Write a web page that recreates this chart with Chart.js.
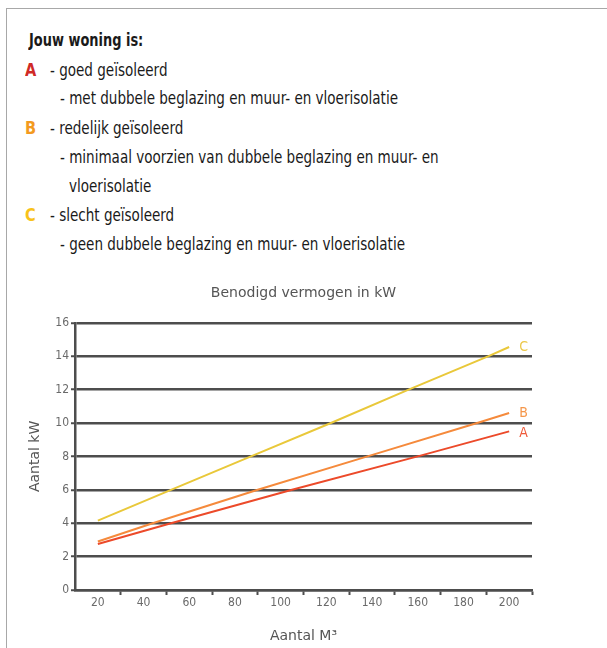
<!DOCTYPE html>
<html>
<head>
<meta charset="utf-8">
<script src="https://cdn.jsdelivr.net/npm/chart.js@4"></script>
<style>
  html,body{margin:0;padding:0;background:#fff;width:607px;height:648px;overflow:hidden;}
  .box{position:absolute;left:6px;top:8px;width:620px;height:700px;border-left:1.5px solid #a8a8a8;border-top:1.5px solid #a8a8a8;}
  .txt{position:absolute;left:0;top:0;font-family:"DejaVu Sans Condensed","DejaVu Sans",sans-serif;font-size:18px;color:#1a1a1a;}
  .row{position:absolute;white-space:nowrap;line-height:20px;transform-origin:0 50%;transform:scaleX(0.835);}
  .let{font-weight:bold;transform:scaleX(0.9);}
  #wrap{position:absolute;left:0;top:270px;width:607px;height:378px;}
</style>
</head>
<body>
<div class="box"></div>
<div class="txt">
  <div class="row" style="left:29px;top:30px;font-weight:bold;transform:scaleX(0.8);">Jouw woning is:</div>
  <div class="row let" style="left:25px;top:60px;color:#d02a26;">A</div>
  <div class="row" style="left:50px;top:60px;">- goed geïsoleerd</div>
  <div class="row" style="left:60px;top:88px;">- met dubbele beglazing en muur- en vloerisolatie</div>
  <div class="row let" style="left:25px;top:118px;color:#f39a1e;">B</div>
  <div class="row" style="left:50px;top:118px;">- redelijk geïsoleerd</div>
  <div class="row" style="left:60px;top:147px;">- minimaal voorzien van dubbele beglazing en muur- en</div>
  <div class="row" style="left:69px;top:176px;">vloerisolatie</div>
  <div class="row let" style="left:25px;top:205px;color:#f8c21a;">C</div>
  <div class="row" style="left:50px;top:205px;">- slecht geïsoleerd</div>
  <div class="row" style="left:60px;top:234px;">- geen dubbele beglazing en muur- en vloerisolatie</div>
</div>
<div id="wrap"><canvas id="c" width="607" height="378"></canvas></div>
<script>
const seriesNames = ['A', 'B', 'C'];
const xA = [20, 52, 105, 160, 200];
const yA = [2.75, 4, 6, 8, 9.5];
const xB = [20, 44, 90, 138, 186, 200];
const yB = [2.9, 4, 6, 8, 10, 10.6];
const xC = [20, 52, 87, 122, 156, 191, 200];
const yC = [4.15, 6, 8, 10, 12, 14, 14.55];
const yTicks = [0, 2, 4, 6, 8, 10, 12, 14, 16];
const xTickLabels = [20, 40, 60, 80, 100, 120, 140, 160, 180, 200];

const colors = {A: '#ec4a2a', B: '#f58a3c', C: '#e9c83a'};
const labelColors = {A: '#ef5a3a', B: '#f5964a', C: '#ecc84a'};
const toPts = (xs, ys) => xs.map((x, i) => ({x: x, y: ys[i]}));
const dataSets = [toPts(xA, yA), toPts(xB, yB), toPts(xC, yC)];
const grid = '#4d4d4d';
const tickFont = {family: '"DejaVu Sans Condensed","DejaVu Sans",sans-serif', size: 12};
const titleFamily = '"DejaVu Sans",sans-serif';

const endLabels = {
  id: 'endLabels',
  afterDatasetsDraw(chart) {
    const ctx = chart.ctx;
    ctx.save();
    ctx.font = '14px "DejaVu Sans Condensed","DejaVu Sans",sans-serif';
    ctx.textBaseline = 'middle';
    ctx.textAlign = 'left';
    chart.data.datasets.forEach((ds, i) => {
      const meta = chart.getDatasetMeta(i);
      const p = meta.data[meta.data.length - 1];
      ctx.fillStyle = labelColors[ds.label];
      ctx.fillText(ds.label, p.x + 10, p.y + (ds.label === 'A' ? 2 : 0));
    });
    ctx.restore();
  }
};

new Chart(document.getElementById('c'), {
  type: 'line',
  data: {
    datasets: seriesNames.map((n, i) => ({
      label: n,
      data: dataSets[i],
      borderColor: colors[n],
      borderWidth: 2,
      pointRadius: 0,
      tension: 0,
      fill: false
    }))
  },
  options: {
    responsive: false,
    animation: false,
    layout: {padding: {left: 0, right: 0, top: 0, bottom: 0}},
    plugins: {
      legend: {display: false},
      tooltip: {enabled: false},
      title: {
        display: true,
        text: 'Benodigd vermogen in kW',
        color: '#555',
        font: {family: titleFamily, size: 14, weight: 'normal'},
        padding: {top: 15, bottom: 21}
      }
    },
    scales: {
      x: {
        type: 'linear',
        min: 10, max: 210,
        afterFit(s) { s.height = 58; },
        afterBuildTicks(s) {
          const t = [];
          for (let v = 10; v <= 210; v += 10) t.push({value: v});
          s.ticks = t;
        },
        ticks: {
          autoSkip: false,
          maxRotation: 0,
          color: '#6a6a6a',
          font: tickFont,
          padding: 1,
          callback: v => xTickLabels.includes(v) ? String(v) : ''
        },
        grid: {
          drawOnChartArea: false,
          tickLength: 5,
          tickWidth: 2,
          tickColor: c => (c.tick && c.tick.value % 20 === 10 && c.tick.value !== 10) ? grid : 'rgba(0,0,0,0)'
        },
        border: {display: true, color: grid, width: 2.5},
        title: {
          display: true,
          text: 'Aantal M³',
          color: '#555',
          font: {family: titleFamily, size: 14},
          padding: {top: 0, bottom: 3}
        }
      },
      y: {
        min: 0, max: 16,
        afterFit(s) { s.width = 75; },
        afterBuildTicks(s) { s.ticks = yTicks.map(v => ({value: v})); },
        ticks: {color: '#6a6a6a', font: tickFont, padding: 2},
        grid: {color: grid, lineWidth: 2.5, tickLength: 4, tickWidth: 2},
        border: {display: true, color: grid, width: 2.5},
        title: {
          display: true,
          text: 'Aantal kW',
          color: '#555',
          font: {family: titleFamily, size: 14},
          padding: {top: 27, bottom: 0}
        }
      },
      yRight: {
        position: 'right',
        min: 0, max: 16,
        afterFit(s) { s.width = 75; },
        ticks: {display: false},
        grid: {drawOnChartArea: false, drawTicks: false},
        border: {display: false}
      }
    }
  },
  plugins: [endLabels]
});
</script>
</body>
</html>
